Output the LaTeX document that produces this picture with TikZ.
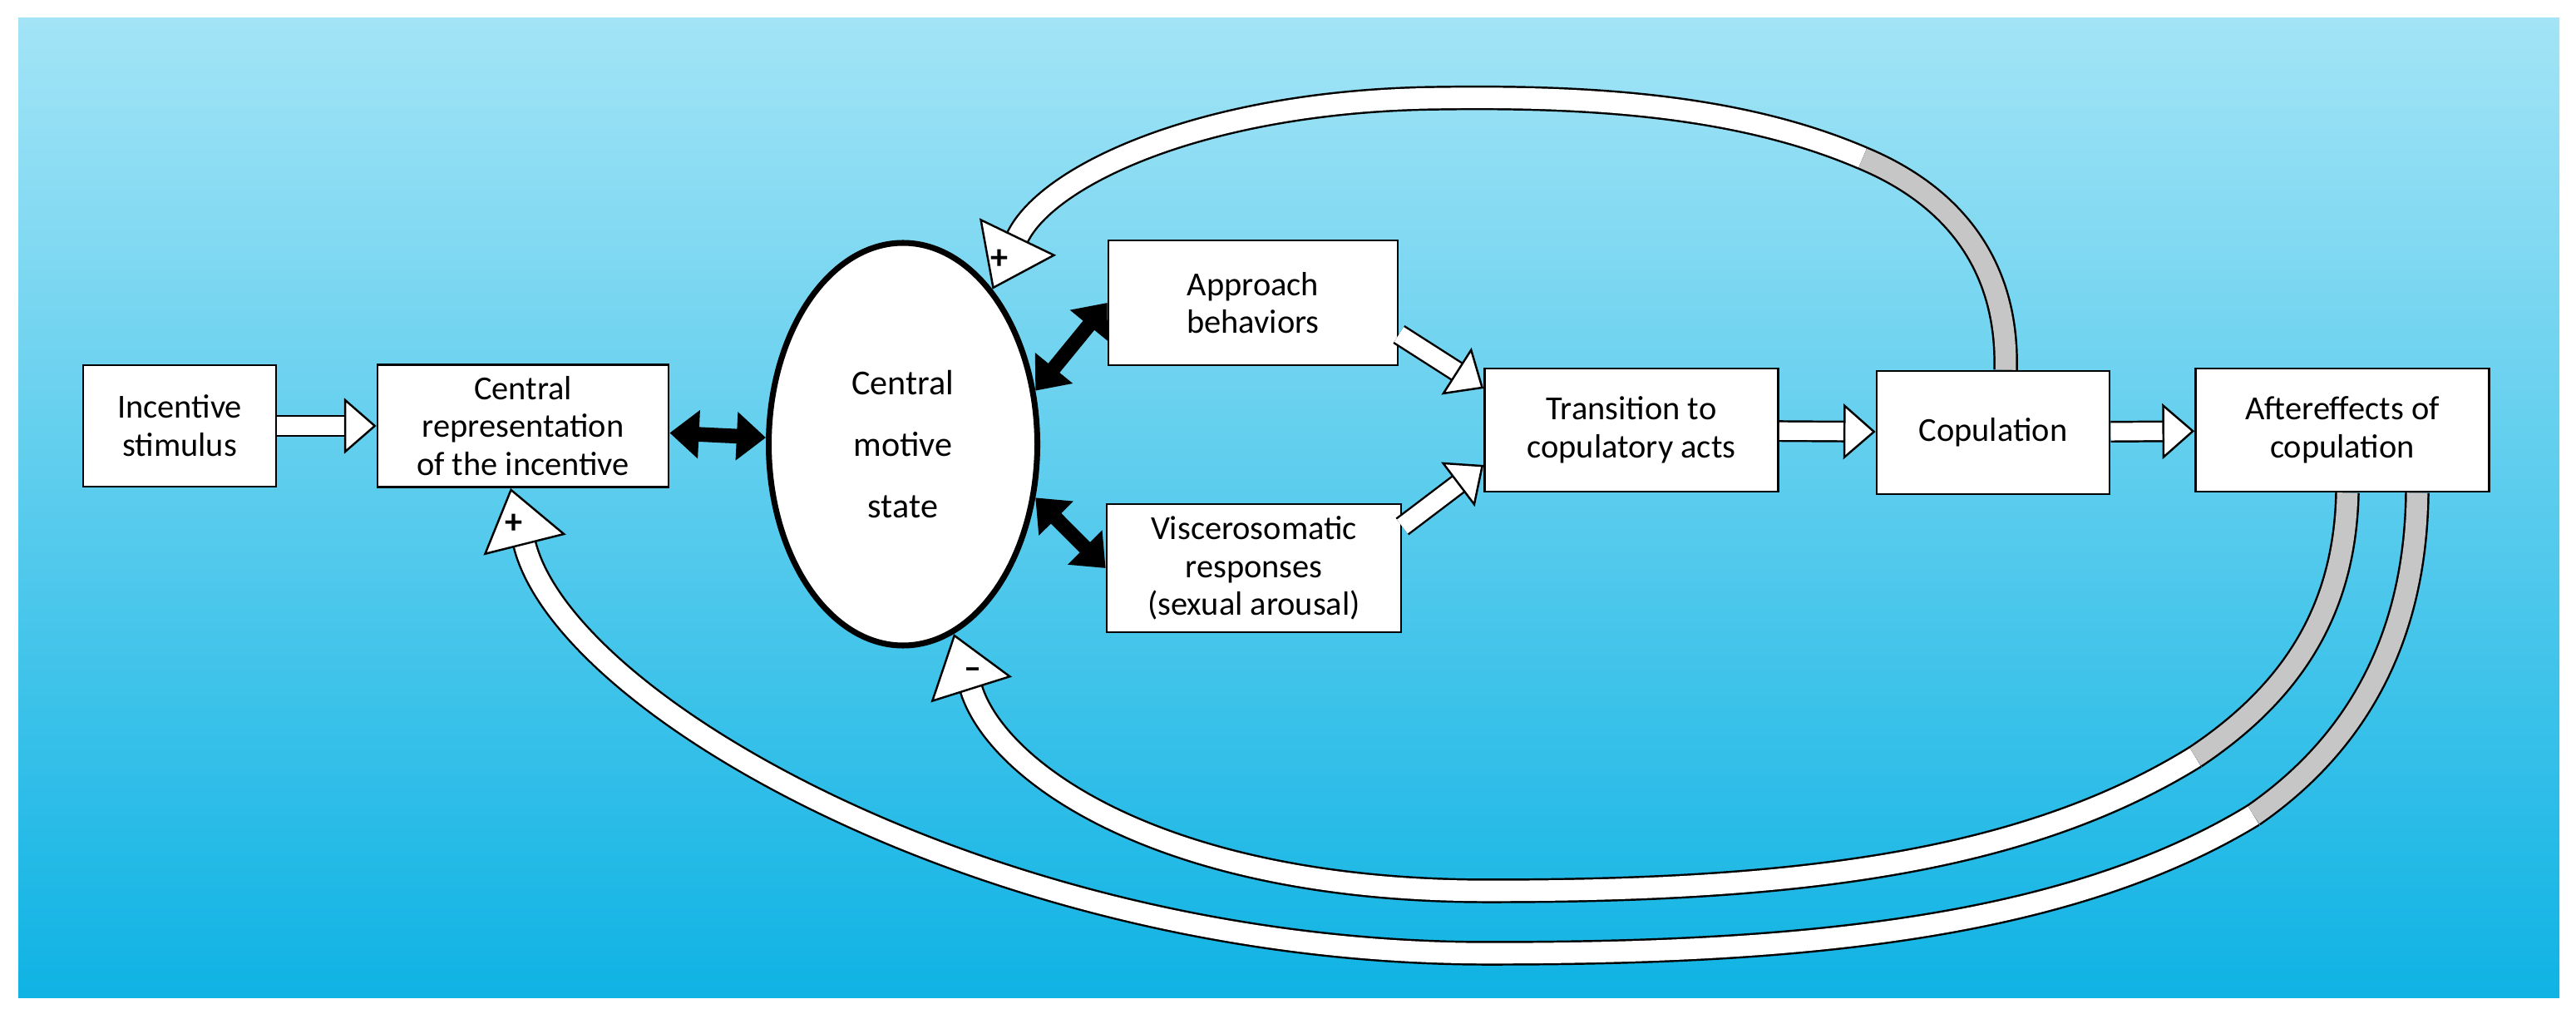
\documentclass[tikz,border=0pt]{standalone}
\usepackage{fontspec}
\setmainfont{Carlito}
\usetikzlibrary{arrows.meta,calc,shapes.geometric}
\definecolor{skytop}{HTML}{A3E4F6}
\definecolor{skybot}{HTML}{0FB3E4}
\tikzset{
  box/.style={draw,thick,fill=white,align=center,font=\fontsize{11.5}{13}\selectfont},
  hollow/.style={line width=0.7pt,double=white,double distance=6pt,
    -{Triangle[fill=white,width=19pt,length=11pt,line width=0.7pt]}},
  loopy/.style={line width=0.7pt,double=white,double distance=7pt},
  loophead/.style={line width=0.7pt,double=white,double distance=7pt,
    -{Triangle[fill=white,width=29pt,length=20pt,line width=0.7pt]}},
  solid/.style={line width=5pt,{Triangle[width=16pt,length=10pt]}-{Triangle[width=16pt,length=10pt]}},
  sign/.style={font=\bfseries\large,inner sep=0pt}
}
\begin{document}
\begin{tikzpicture}
    \useasboundingbox (0,0) rectangle (30.98,-12.19);
    \shade[top color=skytop,bottom color=skybot] (0.22,-0.22) rectangle (30.78,-11.99);

    \node[box,minimum width=2.32cm,minimum height=1.46cm] (stim) at (2.16,-5.12) {Incentive\\stimulus};
    \node[box,minimum width=3.5cm,minimum height=1.47cm] (rep) at (6.29,-5.12) {Central\\representation\\of the incentive};
    \node[draw,line width=2pt,fill=white,ellipse,minimum width=3.23cm,minimum height=4.84cm,align=center,
          font=\fontsize{12}{21}\selectfont] (cms) at (10.86,-5.34) {Central\\motive\\state};
    \node[box,minimum width=3.48cm,minimum height=1.5cm] (appr) at (15.07,-3.64) {Approach\\behaviors};
    \node[box,minimum width=3.54cm,minimum height=1.54cm] (visc) at (15.08,-6.83) {Viscerosomatic\\responses\\(sexual arousal)};
    \node[box,minimum width=3.53cm,minimum height=1.48cm] (trans) at (19.62,-5.17) {Transition to\\copulatory acts};
    \node[box,minimum width=2.8cm,minimum height=1.48cm] (cop) at (23.97,-5.2) {Copulation};
    \node[box,minimum width=3.53cm,minimum height=1.48cm] (after) at (28.17,-5.17) {Aftereffects of\\copulation};

    % forward chain
    \draw[hollow] (stim) -- (rep);
    \draw[solid] (rep) -- (cms);
    \draw[solid] (cms.22) -- (appr.west);
    \draw[solid] (cms.-22) -- (visc.west);
    \draw[hollow] ($(appr.east)+(0,-0.38)$) -- ($(trans.west)+(0,0.5)$);
    \draw[hollow] ($(visc.east)+(0,0.5)$) -- ($(trans.west)+(0,-0.42)$);
    \draw[hollow] (trans) -- (cop);
    \draw[hollow] (cop) -- (after);

    % feedback loops
    \coordinate (topmid) at (17.3,-1.18);
    \coordinate (inmid) at (17.9,-10.71);
    \coordinate (outmid) at (17.9,-11.46);
    \draw[loopy,double=gray!45] ($(cop.north)+(0.15,0)$) .. controls (24.15,-3.3) and (23.6,-2.4) .. (22.4,-1.9);
    \draw[loophead] (22.4,-1.9) .. controls (21,-1.3) and (19.3,-1.15) .. (topmid)
        .. controls (14.5,-1.21) and (12.6,-2.1) .. (cms.60);
    \draw[loopy,double=gray!45] ($(after.south)+(0.06,0)$) .. controls (28.2,-7.3) and (27.6,-8.3) .. (26.4,-9.1);
    \draw[loophead] (26.4,-9.1) .. controls (24.3,-10.4) and (21.5,-10.71) .. (inmid)
        .. controls (14,-10.71) and (12,-9.3) .. (cms.-75);
    \draw[loopy,double=gray!45] ($(after.south)+(0.9,0)$) .. controls (29.05,-7.6) and (28.4,-8.9) .. (27.1,-9.8);
    \draw[loophead] (27.1,-9.8) .. controls (24.8,-11.2) and (21.5,-11.46) .. (outmid)
        .. controls (12,-11.46) and (6.8,-8.5) .. ($(rep.south)+(-0.15,0)$);

    \node[sign] (plustop) at (12.02,-3.12) {+};
    \node[sign] (plusbot) at (6.18,-6.3) {+};
    \node[sign] (minus) at (11.7,-8.1) {--};
\end{tikzpicture}
\end{document}
